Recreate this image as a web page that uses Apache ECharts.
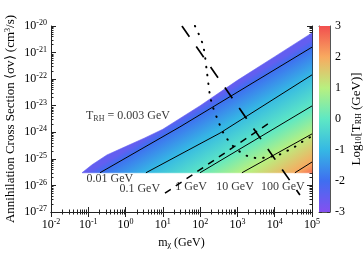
<!DOCTYPE html>
<html>
<head>
<meta charset="utf-8">
<script src="https://cdn.jsdelivr.net/npm/echarts@6/dist/echarts.min.js"></script>
<style>
  html, body { margin: 0; padding: 0; background: #fff; }
  #main { width: 363px; height: 258px; }
</style>
</head>
<body>
<div id="main"></div>
<script>
// ---- axes ----
const xMajor = [0.01, 0.1, 1, 10, 100, 1000, 10000, 100000];
const yMajor = [1e-27, 1e-26, 1e-25, 1e-24, 1e-23, 1e-22, 1e-21, 1e-20];
const cbTicks = [-3, -2, -1, 0, 1, 2, 3];

// colour scale, log10 T_RH
const cbValues = [-3, -2, -1, 0, 1, 2, 3];
const cbColors = ['#8450f0', '#3f6ef0', '#35b8e4', '#5ee8c4', '#b8f080', '#f8aa60', '#f24f4f'];

// floor of the coloured region (thermal cross section)
const svFloor = 3e-26;

// upper edge of the coloured region, T_RH = 0.003 GeV
const edgeMass  = [0.068, 0.126, 0.316, 1, 3.16, 10, 100, 1000, 1e4, 1e5];
const edgeSigma = [3e-26, 6e-26, 1.4e-25, 2.9e-25, 6e-25, 1.3e-24, 1e-23, 9e-23, 7e-22, 5.5e-21];
const edgeT = 0.003;

// T_RH contours, from the floor to m = 1e5 GeV
const tLevels = [0.01, 0.1, 1, 10, 100];
const contourMass = [
  [0.206, 28.7, 1e5],
  [3.52, 340, 1e5],
  [99, 2940, 1e5],
  [1320, 1e5],
  [34800, 1e5]
];
const contourSigma = [
  [3e-26, 1.6e-24, 1.6e-21],
  [3e-26, 9.3e-25, 1.45e-22],
  [3e-26, 5.1e-25, 9.8e-24],
  [3e-26, 8.7e-25],
  [3e-26, 7.6e-26]
];
const cornerLogT = 2.6;

// long dashed line
const dashAMass  = [32.5, 47400];
const dashASigma = [1e-20, 4.4e-27];
// short dashed line
const dashBMass  = [11.4, 8410];
const dashBSigma = [5.1e-27, 2.6e-24];
// dotted curve
const dotMass  = [72.6, 119, 152, 183, 220, 282, 408, 556, 857, 1320, 2160, 4010, 6580, 12200, 18700, 30800, 53600, 1e5];
const dotSigma = [1e-20, 1.93e-21, 1.86e-22, 2.5e-23, 8.9e-24, 3.5e-24, 1.02e-24, 5.1e-25, 2.57e-25, 1.66e-25,
                  1.17e-25, 1.07e-25, 1.17e-25, 1.38e-25, 1.82e-25, 2.57e-25, 4.3e-25, 7.2e-25];

// text annotations
const noteText  = ['T{sub|RH} = 0.003 GeV', '0.01 GeV', '0.1 GeV', '1 GeV', '10 GeV', '100 GeV'];
const noteMass  = [1.16, 0.38, 2.4, 57, 860, 16600];
const noteSigma = [4.1e-24, 1.75e-26, 7.3e-27, 8.7e-27, 8.7e-27, 8.7e-27];

// ---------------------------------------------------------------
const F = 'Liberation Serif';
const zip = (a, b) => a.map((v, i) => [v, b[i]]);

function minorOf(lo, hi) {
  const out = [];
  for (let e = lo; e < hi; e++) {
    for (let k = 2; k <= 9; k++) out.push(Number((k * Math.pow(10, e)).toPrecision(6)));
  }
  return out;
}
const xMinor = minorOf(-2, 5);
const yMinor = minorOf(-27, -20);

function hexRgb(h) {
  return [parseInt(h.slice(1, 3), 16), parseInt(h.slice(3, 5), 16), parseInt(h.slice(5, 7), 16)];
}
function colorAt(v) {
  v = Math.max(cbValues[0], Math.min(cbValues[cbValues.length - 1], v));
  let i = 0;
  while (i < cbValues.length - 2 && v > cbValues[i + 1]) i++;
  const t = (v - cbValues[i]) / (cbValues[i + 1] - cbValues[i]);
  const a = hexRgb(cbColors[i]), b = hexRgb(cbColors[i + 1]);
  return 'rgb(' + a.map((c, k) => Math.round(c + (b[k] - c) * t)).join(',') + ')';
}

// lines bounding the colour bands
const bandLines = [zip(edgeMass, edgeSigma)].concat(contourMass.map((m, i) => zip(m, contourSigma[i])));
const bandLevels = [Math.log10(edgeT)].concat(tLevels.map(t => Math.log10(t)));

function renderBand(params, api) {
  const i = params.dataIndex;
  const a = bandLines[i].map(p => api.coord(p));
  let b, tb;
  if (i + 1 < bandLines.length) {
    b = bandLines[i + 1].map(p => api.coord(p));
    tb = bandLevels[i + 1];
  } else {
    b = [api.coord([1e5, svFloor])];
    tb = cornerLogT;
  }
  const ta = bandLevels[i];
  const ref = b.length >= 2 ? b : a;
  const dx = ref[ref.length - 1][0] - ref[0][0], dy = ref[ref.length - 1][1] - ref[0][1];
  const len = Math.hypot(dx, dy);
  const n = [-dy / len, dx / len];
  const pa = i === 0 ? a[6] : [(a[0][0] + a[a.length - 1][0]) / 2, (a[0][1] + a[a.length - 1][1]) / 2];
  const pb0 = b.length >= 2 ? [(b[0][0] + b[b.length - 1][0]) / 2, (b[0][1] + b[b.length - 1][1]) / 2] : b[0];
  const d = (pb0[0] - pa[0]) * n[0] + (pb0[1] - pa[1]) * n[1];
  const grad = new echarts.graphic.LinearGradient(pa[0], pa[1], pa[0] + n[0] * d, pa[1] + n[1] * d, [
    { offset: 0, color: colorAt(ta) },
    { offset: 0.5, color: colorAt((ta + tb) / 2) },
    { offset: 1, color: colorAt(tb) }
  ], true);
  return {
    type: 'polygon',
    shape: { points: a.concat(b.slice().reverse()) },
    style: { fill: grad, stroke: grad, lineWidth: 0.6 }
  };
}

function renderBar(params, api) {
  const p0 = api.coord([0, cbValues[cbValues.length - 1]]);
  const p1 = api.coord([1, cbValues[0]]);
  const top = cbValues[cbValues.length - 1], span = top - cbValues[0];
  const stops = cbValues.map((v, i) => ({ offset: (top - v) / span, color: cbColors[i] }))
    .sort((s, t) => s.offset - t.offset);
  return {
    type: 'rect',
    shape: { x: p0[0], y: p0[1], width: p1[0] - p0[0], height: p1[1] - p0[1] },
    style: { fill: new echarts.graphic.LinearGradient(0, 0, 0, 1, stops) }
  };
}

const rich = {
  b: { fontFamily: F, fontSize: 12, color: '#000' },
  sup: { fontFamily: F, fontSize: 8, color: '#000', verticalAlign: 'top', padding: [0, 0, 6, 0] },
  sub: { fontFamily: F, fontSize: 8, color: '#000', verticalAlign: 'bottom', padding: [5, 0, 0, 0] }
};
const powLabel = v => '{b|10}{sup|' + Math.round(Math.log10(v)) + '}';
const axisColor = '#222';

function logAxis(kind, grid, pos, values, len, withLine) {
  return {
    gridIndex: grid, type: 'log', logBase: 10,
    min: kind === 'x' ? xMajor[0] : yMajor[0],
    max: kind === 'x' ? xMajor[xMajor.length - 1] : yMajor[yMajor.length - 1],
    position: pos,
    axisLine: { show: withLine, lineStyle: { color: axisColor, width: 1 } },
    axisTick: { inside: true, length: len, customValues: values, lineStyle: { color: axisColor, width: 1 } },
    axisLabel: { show: false },
    splitLine: { show: false }
  };
}

const xAxes = [
  Object.assign(logAxis('x', 0, 'bottom', xMajor, 5, true), {
    axisLabel: { show: true, customValues: xMajor, formatter: powLabel, rich: rich, margin: 6 },
    name: 'm{sub|χ} (GeV)', nameLocation: 'middle', nameGap: 24, nameMoveOverlap: false,
    nameTextStyle: { fontFamily: F, fontSize: 12, color: '#000', rich: rich }
  }),
  logAxis('x', 0, 'bottom', xMinor, 2.5, false),
  logAxis('x', 0, 'top', xMajor, 5, true),
  logAxis('x', 0, 'top', xMinor, 2.5, false),
  { gridIndex: 1, type: 'value', min: 0, max: 1, position: 'bottom',
    axisLine: { onZero: false, lineStyle: { color: '#555' } }, axisTick: { show: false }, axisLabel: { show: false }, splitLine: { show: false } },
  { gridIndex: 1, type: 'value', min: 0, max: 1, position: 'top',
    axisLine: { onZero: false, lineStyle: { color: '#555' } }, axisTick: { show: false }, axisLabel: { show: false }, splitLine: { show: false } }
];

const yAxes = [
  Object.assign(logAxis('y', 0, 'left', yMajor, 5, true), {
    axisLabel: { show: true, customValues: yMajor, formatter: powLabel, rich: rich, margin: 4 },
    name: 'Annihilation Cross Section \u27e8σv\u27e9 (cm{sup|3}/s)', nameLocation: 'middle', nameGap: 33, nameRotate: 90,
    nameMoveOverlap: false,
    nameTextStyle: { fontFamily: F, fontSize: 13, color: '#000', rich: rich }
  }),
  logAxis('y', 0, 'left', yMinor, 2.5, false),
  logAxis('y', 0, 'right', yMajor, 5, true),
  logAxis('y', 0, 'right', yMinor, 2.5, false),
  { gridIndex: 1, type: 'value', min: -3, max: 3, interval: 1, position: 'right',
    axisLine: { onZero: false, lineStyle: { color: '#555' } },
    axisTick: { inside: true, length: 3, lineStyle: { color: '#333' } },
    axisLabel: { fontFamily: F, fontSize: 12, color: '#000', margin: 5 },
    splitLine: { show: false },
    name: 'Log{sub|10}[T{sub|RH} (GeV)]', nameLocation: 'middle', nameRotate: 90, nameGap: 20,
    nameMoveOverlap: false,
    nameTextStyle: { fontFamily: F, fontSize: 13, color: '#000', rich: rich } },
  { gridIndex: 1, type: 'value', min: -3, max: 3, interval: 1, position: 'left',
    axisLine: { onZero: false, lineStyle: { color: '#555' } },
    axisTick: { inside: true, length: 3, lineStyle: { color: '#333' } },
    axisLabel: { show: false }, splitLine: { show: false } }
];

const lineSeries = (data, style, z) => ({
  type: 'line', xAxisIndex: 0, yAxisIndex: 0, data: data, symbol: 'none',
  lineStyle: style, z: z, silent: true
});

const series = [
  { type: 'custom', xAxisIndex: 0, yAxisIndex: 0, renderItem: renderBand,
    data: bandLines.map(l => l[0]), z: 1, silent: true },
  { type: 'custom', xAxisIndex: 4, yAxisIndex: 4, renderItem: renderBar, data: [[0.5, 0]], z: 1, silent: true }
];
contourMass.forEach((m, i) => {
  series.push(lineSeries(zip(m, contourSigma[i]), { color: '#000', width: 1 }, 3));
});
series.push(lineSeries(zip(dashAMass, dashASigma), { color: '#000', width: 1.7, type: [13, 12] }, 4));
series.push(lineSeries(zip(dashBMass, dashBSigma), { color: '#000', width: 1.5, type: [7, 6] }, 4));
series.push(Object.assign(lineSeries(zip(dotMass, dotSigma), { color: '#000', width: 2, type: [0.5, 8], cap: 'round' }, 4), { smooth: 0.3 }));
series.push({
  type: 'scatter', xAxisIndex: 0, yAxisIndex: 0, symbolSize: 1, z: 6, silent: true,
  itemStyle: { color: 'rgba(0,0,0,0)' },
  data: noteText.map((t, i) => ({ name: t, value: [noteMass[i], noteSigma[i]] })),
  label: { show: true, position: 'inside', formatter: '{b}', fontFamily: F, fontSize: 12, color: '#000', rich: rich }
});

const chart = echarts.init(document.getElementById('main'), null, { renderer: 'canvas' });
chart.setOption({
  animation: false,
  backgroundColor: '#fff',
  grid: [
    { left: 51, top: 26, width: 261, height: 186, outerBoundsMode: 'none' },
    { left: 319, top: 26, width: 11, height: 186, outerBoundsMode: 'none' }
  ],
  xAxis: xAxes,
  yAxis: yAxes,
  series: series
});
</script>
</body>
</html>
